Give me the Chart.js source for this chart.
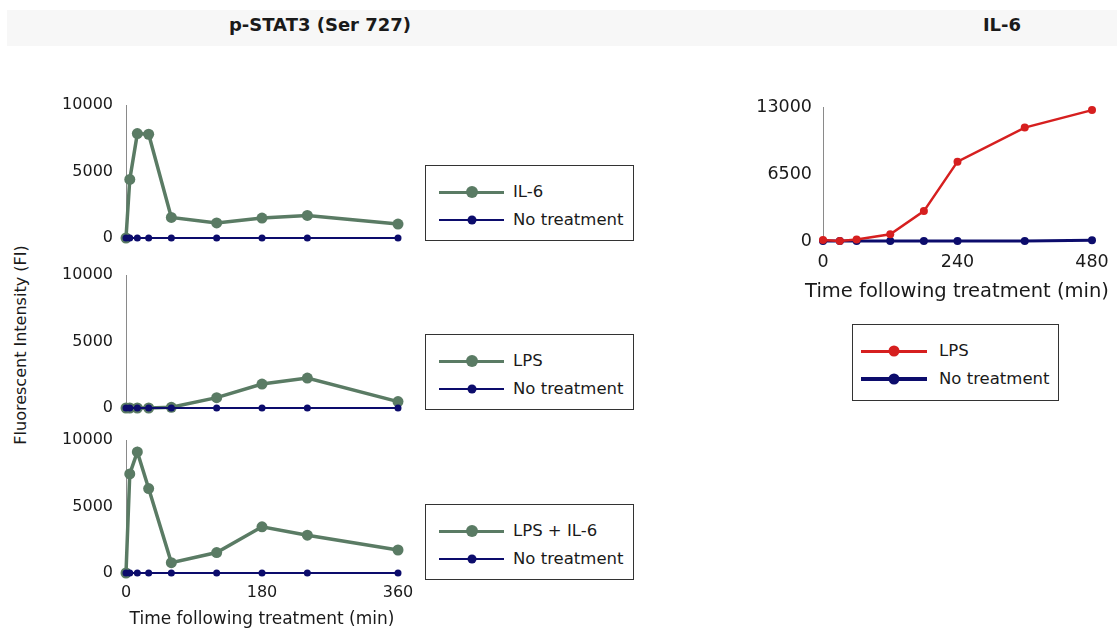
<!DOCTYPE html>
<html lang="en">
<head>
  <meta charset="UTF-8" />
  <title>p-STAT3 (Ser 727) and IL-6</title>
  <script src="https://cdn.jsdelivr.net/npm/chart.js"></script>
  <style>
    body { margin: 0; width: 1117px; height: 630px; position: relative; overflow: hidden; background: #fff;
           font-family: "DejaVu Sans", Verdana, sans-serif; color: #1a1a1a; }
    .band { position: absolute; left: 7px; right: 0; top: 10px; height: 36px; background: #f7f7f7; }
    .title { position: absolute; top: 14px; font-weight: bold; font-size: 18px; transform: translateX(-50%); white-space: nowrap; }
    .panel { position: absolute; }
    .ylabel { position: absolute; left: 20px; top: 345px; transform: translate(-50%, -50%) rotate(-90deg);
              font-size: 16px; white-space: nowrap; }
    .xlabel { position: absolute; transform: translate(-50%, -50%); white-space: nowrap; }
    .legend { position: absolute; border: 1.5px solid #333; background: #fff; box-sizing: border-box; }
    .item { position: absolute; height: 0; }
    .swatch { position: absolute; left: 0; }
    .swatch::after { content: ""; position: absolute; left: 50%; top: 50%; border-radius: 50%;
                     width: var(--d); height: var(--d); transform: translate(-50%, -50%); background: inherit; }
    .lbl { position: absolute; top: -10px; line-height: 20px; white-space: nowrap; font-size: 16.5px; }
  </style>
</head>
<body>
  <div class="band"></div>
  <div class="title" style="left:320px">p-STAT3 (Ser 727)</div>
  <div class="title" style="left:1002px">IL-6</div>
  <div class="ylabel">Fluorescent Intensity (FI)</div>

  <div class="panel" style="left:40px;top:95px;width:380px;height:150px"><canvas id="il6Panel"></canvas></div>
  <div class="panel" style="left:40px;top:265px;width:380px;height:150px"><canvas id="lpsPanel"></canvas></div>
  <div class="panel" style="left:40px;top:430px;width:380px;height:200px"><canvas id="comboPanel"></canvas></div>
  <div class="panel" style="left:730px;top:97px;width:387px;height:214px"><canvas id="secretionPanel"></canvas></div>
  <!-- the library squeezes axis titles to the plot width, so this one is plain text -->
  <div class="xlabel" style="left:957px;top:290px;font-size:19.5px">Time following treatment (min)</div>

  <!-- Legends -->
  <div class="legend" style="left:425px;top:165px;width:209px;height:76px">
    <div class="item" style="left:13px;top:26px"><span class="swatch" style="width:65px;height:3px;top:-1.5px;background:#5a7b64;--d:12px"></span><span class="lbl" style="left:74px">IL-6</span></div>
    <div class="item" style="left:13px;top:54px"><span class="swatch" style="width:65px;height:1.5px;top:-0.75px;background:#0c0c6c;--d:9px"></span><span class="lbl" style="left:74px">No treatment</span></div>
  </div>
  <div class="legend" style="left:425px;top:334px;width:209px;height:76px">
    <div class="item" style="left:13px;top:26px"><span class="swatch" style="width:65px;height:3px;top:-1.5px;background:#5a7b64;--d:12px"></span><span class="lbl" style="left:74px">LPS</span></div>
    <div class="item" style="left:13px;top:54px"><span class="swatch" style="width:65px;height:1.5px;top:-0.75px;background:#0c0c6c;--d:9px"></span><span class="lbl" style="left:74px">No treatment</span></div>
  </div>
  <div class="legend" style="left:425px;top:504px;width:209px;height:76px">
    <div class="item" style="left:13px;top:26px"><span class="swatch" style="width:65px;height:3px;top:-1.5px;background:#5a7b64;--d:12px"></span><span class="lbl" style="left:74px">LPS + IL-6</span></div>
    <div class="item" style="left:13px;top:54px"><span class="swatch" style="width:65px;height:1.5px;top:-0.75px;background:#0c0c6c;--d:9px"></span><span class="lbl" style="left:74px">No treatment</span></div>
  </div>
  <div class="legend" style="left:852px;top:324px;width:207px;height:77px">
    <div class="item" style="left:8px;top:26px"><span class="swatch" style="width:66px;height:3px;top:-1.5px;background:#d61f1f;--d:11px"></span><span class="lbl" style="left:78px">LPS</span></div>
    <div class="item" style="left:8px;top:54px"><span class="swatch" style="width:66px;height:3.5px;top:-1.75px;background:#0c0c6c;--d:11px"></span><span class="lbl" style="left:78px">No treatment</span></div>
  </div>

  <script>
    // p-STAT3 time points (min)
    const stat3Times = [0, 5, 15, 30, 60, 120, 180, 240, 360];
    const stat3Il6 = [0, 4400, 7850, 7800, 1550, 1130, 1500, 1700, 1050];
    const stat3Lps = [0, 0, 0, 0, 50, 780, 1800, 2250, 480];
    const stat3LpsIl6 = [0, 7450, 9100, 6350, 780, 1540, 3470, 2840, 1730];
    const stat3None = [0, 0, 0, 0, 0, 0, 0, 0, 0];
    const stat3YTicks = [0, 5000, 10000];
    const stat3XTicks = [0, 180, 360];

    // IL-6 secretion time points (min)
    const il6Times = [0, 30, 60, 120, 180, 240, 360, 480];
    const il6Lps = [100, 0, 150, 650, 2900, 7700, 11000, 12700];
    const il6None = [0, 0, 0, 0, 0, 0, 0, 80];
    const il6YTicks = [0, 6500, 13000];
    const il6XTicks = [0, 240, 480];

    const GREEN = "#5a7b64";
    const NAVY = "#0c0c6c";
    const RED = "#d61f1f";
    const FONT = "'DejaVu Sans', Verdana, sans-serif";

    const toPoints = (xs, ys) => xs.map((x, i) => ({ x: x, y: ys[i] }));

    function series(xs, ys, color, width, radius) {
      return {
        data: toPoints(xs, ys),
        borderColor: color,
        backgroundColor: color,
        borderWidth: width,
        pointRadius: radius,
        pointBorderWidth: 0,
        tension: 0,
        clip: false
      };
    }

    // zero out the label overhang padding so the plot area sits where the layout padding says
    function noPad(s) {
      s.paddingLeft = 0; s.paddingRight = 0; s.paddingTop = 0; s.paddingBottom = 0;
    }

    function panel(id, datasets, cfg) {
      new Chart(document.getElementById(id), {
        type: "line",
        data: { datasets: datasets },
        options: {
          responsive: true,
          maintainAspectRatio: false,
          animation: false,
          layout: { padding: { top: 10, left: cfg.left, right: cfg.right, bottom: cfg.bottom } },
          plugins: { legend: { display: false }, tooltip: { enabled: false } },
          scales: {
            x: {
              type: "linear",
              display: cfg.showX,
              min: cfg.xTicks[0],
              max: cfg.xTicks[cfg.xTicks.length - 1],
              afterBuildTicks: s => { s.ticks = cfg.xTicks.map(v => ({ value: v })); },
              afterFit: s => { noPad(s); if (cfg.showX) s.height = cfg.xHeight; },
              grid: { display: false, drawTicks: false },
              border: { display: false },
              ticks: { padding: cfg.xPad, color: "#1a1a1a", font: { family: FONT, size: cfg.fs }, callback: v => String(v) },
              title: { display: cfg.xTitle, text: "Time following treatment (min)", color: "#1a1a1a",
                       padding: { top: 0, bottom: cfg.titlePad }, font: { family: FONT, size: cfg.titleFs } }
            },
            y: {
              min: cfg.yTicks[0],
              max: cfg.yTicks[cfg.yTicks.length - 1],
              afterBuildTicks: s => { s.ticks = cfg.yTicks.map(v => ({ value: v })); },
              afterFit: s => { noPad(s); s.width = cfg.yWidth; },
              grid: { display: false, drawTicks: false },
              border: { display: true, color: "#8a8a8a", width: 1 },
              ticks: { padding: cfg.yPad, color: "#1a1a1a", font: { family: FONT, size: cfg.fs }, callback: v => String(v) }
            }
          }
        }
      });
    }

    // left panels: canvas 40..420, plot 126..398
    const leftCfg = { xTicks: stat3XTicks, yTicks: stat3YTicks, showX: false, xTitle: true, left: 20, right: 22, bottom: 7,
                      yWidth: 66, yPad: 13, xHeight: 57, xPad: 10, titlePad: 0, fs: 16, titleFs: 17 };

    // untreated line first so it is drawn on top
    panel("il6Panel", [
      series(stat3Times, stat3None, NAVY, 2, 3.5),
      series(stat3Times, stat3Il6, GREEN, 3.5, 5.5)
    ], leftCfg);

    panel("lpsPanel", [
      series(stat3Times, stat3None, NAVY, 2, 3.5),
      series(stat3Times, stat3Lps, GREEN, 3.5, 5.5)
    ], leftCfg);

    panel("comboPanel", [
      series(stat3Times, stat3None, NAVY, 2, 3.5),
      series(stat3Times, stat3LpsIl6, GREEN, 3.5, 5.5)
    ], Object.assign({}, leftCfg, { showX: true, bottom: 0 }));

    // right panel: canvas 730..1117, plot 823..1092; LPS drawn on top here
    panel("secretionPanel", [
      series(il6Times, il6Lps, RED, 2.5, 4),
      series(il6Times, il6None, NAVY, 3, 4)
    ], { xTicks: il6XTicks, yTicks: il6YTicks, showX: true, xTitle: false, left: 10, right: 25, bottom: 0,
         yWidth: 83, yPad: 11, xHeight: 70, xPad: 11, titlePad: 10, fs: 17.5, titleFs: 20 });
  </script>
</body>
</html>
